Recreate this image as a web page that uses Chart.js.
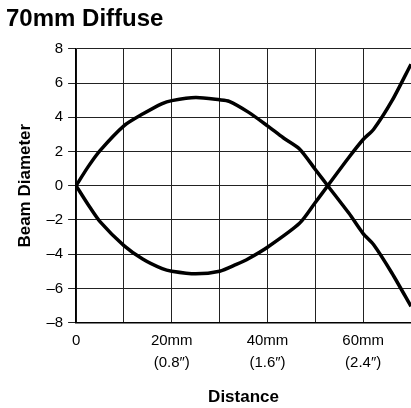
<!DOCTYPE html>
<html>
<head>
<meta charset="utf-8">
<script src="https://cdn.jsdelivr.net/npm/chart.js@4"></script>
<style>
  html, body { margin: 0; padding: 0; background: #fff; }
  #wrap { width: 411px; height: 408px; }
</style>
</head>
<body>
<div id="wrap"><canvas id="myChart" width="411" height="408"></canvas></div>
<script>
// distance (mm) and beam diameter
const distA = [0, 2.5, 5, 10, 14, 18, 20, 25, 30, 32, 36, 40, 43.3, 46.7, 50, 52.6, 57, 60, 62.2, 66, 70]
const beamA = [0, 1.1, 2.05, 3.5, 4.2, 4.8, 4.97, 5.15, 5.02, 4.93, 4.3, 3.5, 2.8, 2.15, 0.95, 0, -1.6, -2.8, -3.45, -5.1, -7.05]

const distB = [0, 2.5, 5, 10, 14, 18, 20, 25, 30, 33.5, 36, 40, 46.7, 50, 52.6, 57, 60, 62.2, 66, 70]
const beamB = [0, -1.1, -2.1, -3.5, -4.3, -4.85, -5.0, -5.15, -5.0, -4.6, -4.27, -3.6, -2.2, -0.98, 0, 1.65, 2.7, 3.3, 4.95, 7.1]

const xTickValues = [0, 20, 40, 60]
const xTickLabels = [['0'], ['20mm', '(0.8\u2033)'], ['40mm', '(1.6\u2033)'], ['60mm', '(2.4\u2033)']]

const toPoints = (xs, ys) => xs.map((x, i) => ({ x: x, y: ys[i] }))

const font = 'Liberation Sans, Arial, Helvetica, sans-serif'

const lineStyle = {
    borderColor: '#000',
    borderWidth: 3.5,
    pointRadius: 0,
    fill: false,
    tension: 0.25,
    showLine: true,
}

const config = {
    type: 'scatter',
    data: {
        datasets: [
            { ...lineStyle, label: 'a', data: toPoints(distA, beamA) },
            { ...lineStyle, label: 'b', data: toPoints(distB, beamB) },
        ]
    },
    options: {
        responsive: false,
        animation: false,
        layout: { padding: { left: 6, right: 0, top: 0, bottom: 0 } },
        plugins: {
            legend: { display: false },
            tooltip: { enabled: false },
            title: {
                display: true,
                text: '70mm Diffuse',
                align: 'start',
                color: '#000',
                font: { family: font, size: 24, weight: 'bold' },
                padding: { top: 5, bottom: 15 },
            },
        },
        scales: {
            x: {
                type: 'linear',
                min: 0,
                max: 70,
                // invisible tick marks give the gap under the axis without adding right padding
                grid: { color: '#222', lineWidth: 1, drawTicks: true, tickLength: 7, tickColor: 'rgba(0,0,0,0)' },
                border: { color: '#000', width: 1.5 },
                ticks: {
                    stepSize: 10,
                    color: '#000',
                    padding: 0,
                    maxRotation: 0,
                    autoSkip: false,
                    font: { family: font, size: 15, lineHeight: 1.5 },
                    callback: (value) => {
                        const i = xTickValues.indexOf(value)
                        return i >= 0 ? xTickLabels[i] : ''
                    }
                },
                title: {
                    display: true,
                    text: 'Distance',
                    color: '#000',
                    font: { family: font, size: 17, weight: 'bold' },
                    padding: { top: 13, bottom: 0 },
                }
            },
            y: {
                min: -8,
                max: 8,
                grid: { color: '#222', lineWidth: 1, tickLength: 8 },
                border: { color: '#000', width: 1.5 },
                ticks: {
                    stepSize: 2,
                    color: '#000',
                    padding: 5,
                    font: { family: font, size: 15 },
                    callback: (value) => String(value).replace('-', '\u2013')
                },
                title: {
                    display: true,
                    text: 'Beam Diameter',
                    color: '#000',
                    font: { family: font, size: 17, weight: 'bold' },
                    padding: { top: 9, bottom: 6 },
                }
            }
        }
    }
}

const chart = new Chart(document.getElementById('myChart'), config)
</script>
</body>
</html>
